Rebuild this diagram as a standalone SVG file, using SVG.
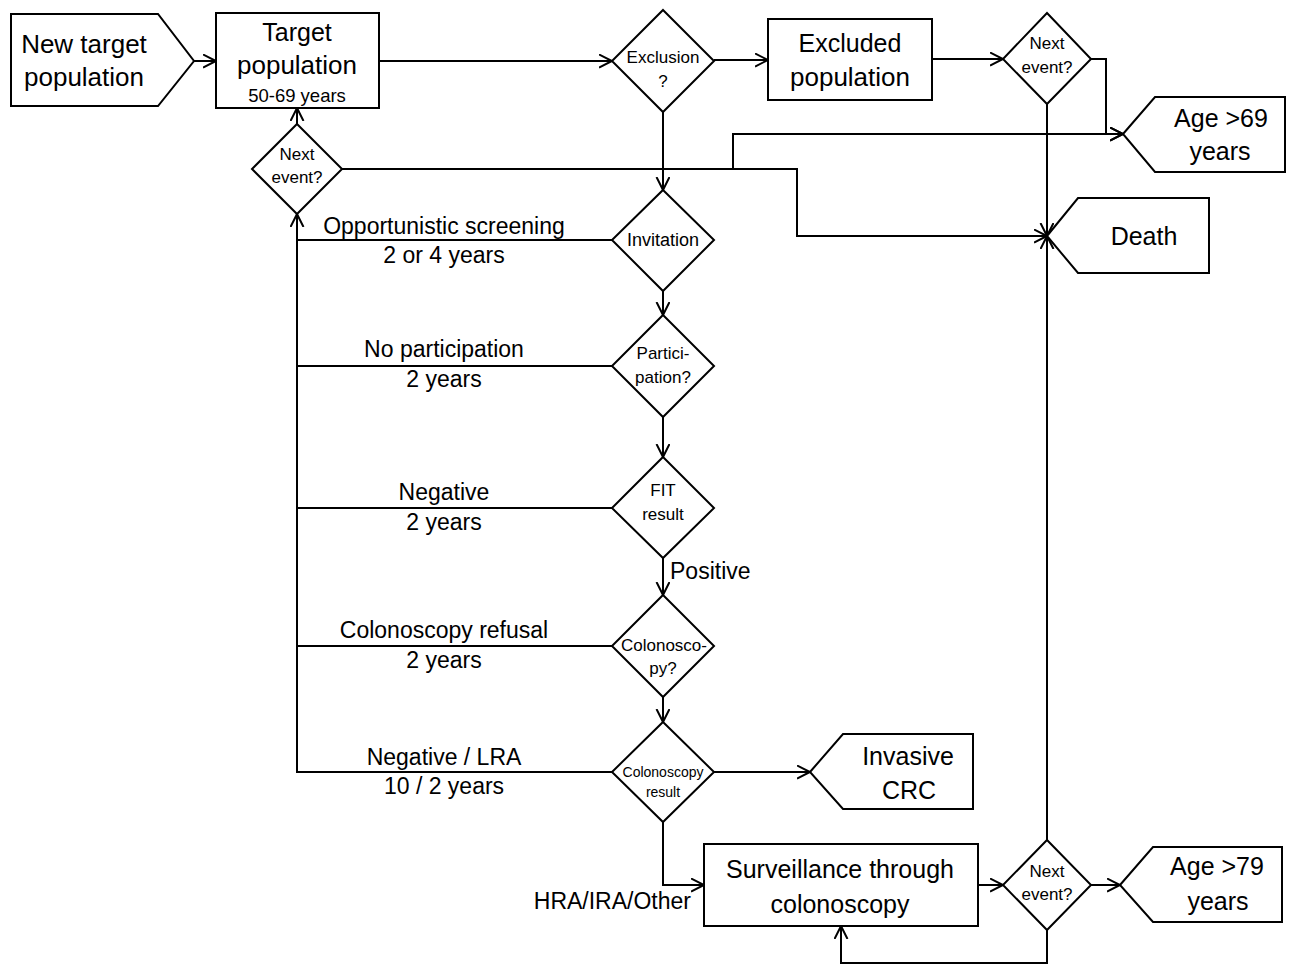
<svg xmlns="http://www.w3.org/2000/svg" width="1290" height="964" viewBox="0 0 1290 964">
<style>
.s{fill:#fff;stroke:#000;stroke-width:2}
.c{fill:none;stroke:#000;stroke-width:2}
text{font-family:"Liberation Sans",Arial,sans-serif;fill:#000;text-anchor:middle}
.big{font-size:25px}
.lab{font-size:23px}
.dm{font-size:17px}
.sm{font-size:14px}
</style>
<defs>
<marker id="a" markerUnits="userSpaceOnUse" markerWidth="16" markerHeight="16" refX="13" refY="7" orient="auto">
<path d="M0,0.5 L13,7 L0,13.5" fill="none" stroke="#000" stroke-width="2"/>
</marker>
</defs>
<g id="connectors" class="c">
<path d="M194,61 H216" marker-end="url(#a)"/>
<path d="M379,61 H612" marker-end="url(#a)"/>
<path d="M663,112 V190" marker-end="url(#a)"/>
<path d="M714,60 H768" marker-end="url(#a)"/>
<path d="M932,59 H1003" marker-end="url(#a)"/>
<path d="M1091,59 H1106 V134 H1123" marker-end="url(#a)"/>
<path d="M1047,104 V236" marker-end="url(#a)"/>
<path d="M297,124 V108" marker-end="url(#a)"/>
<path d="M342,169 H797 V236 H1047" marker-end="url(#a)"/>
<path d="M733,169 V134 H1123" marker-end="url(#a)"/>
<path d="M663,291 V315" marker-end="url(#a)"/>
<path d="M663,417 V457" marker-end="url(#a)"/>
<path d="M663,558 V595" marker-end="url(#a)"/>
<path d="M663,697 V722" marker-end="url(#a)"/>
<path d="M714,772 H810" marker-end="url(#a)"/>
<path d="M663,822 V885 H704" marker-end="url(#a)"/>
<path d="M612,240 H297"/>
<path d="M612,366 H297"/>
<path d="M612,508 H297"/>
<path d="M612,646 H297"/>
<path d="M612,772 H297 V214" marker-end="url(#a)"/>
<path d="M978,885 H1003" marker-end="url(#a)"/>
<path d="M1091,885 H1120" marker-end="url(#a)"/>
<path d="M1047,930 V963 H841 V926" marker-end="url(#a)"/>
<path d="M1047,840 V236" marker-end="url(#a)"/>
</g>
<g id="labels">
<text class="lab" x="444" y="234">Opportunistic screening</text>
<text class="lab" x="444" y="263">2 or 4 years</text>
<text class="lab" x="444" y="357">No participation</text>
<text class="lab" x="444" y="387">2 years</text>
<text class="lab" x="444" y="500">Negative</text>
<text class="lab" x="444" y="530">2 years</text>
<text class="lab" x="444" y="638">Colonoscopy refusal</text>
<text class="lab" x="444" y="668">2 years</text>
<text class="lab" x="444" y="765">Negative / LRA</text>
<text class="lab" x="444" y="794">10 / 2 years</text>
<text class="lab" x="670" y="579" style="text-anchor:start">Positive</text>
<text class="lab" x="691" y="909" style="text-anchor:end">HRA/IRA/Other</text>
</g>
<g id="new-target">
<polygon class="s" points="11,14 158,14 194,61 158,106 11,106"/>
<text class="big" x="84" y="53" style="font-size:26px">New target</text>
<text class="big" x="84" y="86" style="font-size:26px">population</text>
</g>
<g id="target">
<rect class="s" x="216" y="13" width="163" height="95"/>
<text class="big" x="297" y="41">Target</text>
<text class="big" x="297" y="74" style="font-size:26px">population</text>
<text x="297" y="102" style="font-size:18.5px">50-69 years</text>
</g>
<g id="next-left">
<polygon class="s" points="297,124 342,169 297,214 252,169"/>
<text class="dm" x="297" y="160">Next</text>
<text class="dm" x="297" y="183">event?</text>
</g>
<g id="exclusion">
<polygon class="s" points="663,10 714,61 663,112 612,61"/>
<text class="dm" x="663" y="63">Exclusion</text>
<text class="dm" x="663" y="87">?</text>
</g>
<g id="excluded">
<rect class="s" x="768" y="19" width="164" height="81"/>
<text class="big" x="850" y="52">Excluded</text>
<text class="big" x="850" y="86" style="font-size:26px">population</text>
</g>
<g id="next-top-right">
<polygon class="s" points="1047,13 1091,59 1047,104 1003,59"/>
<text class="dm" x="1047" y="49">Next</text>
<text class="dm" x="1047" y="73">event?</text>
</g>
<g id="age69">
<polygon class="s" points="1123,134 1155,97 1285,97 1285,172 1155,172"/>
<text class="big" x="1221" y="127">Age &gt;69</text>
<text class="big" x="1220" y="160">years</text>
</g>
<g id="death">
<polygon class="s" points="1047,236 1078,198 1209,198 1209,273 1078,273"/>
<text class="big" x="1144" y="245">Death</text>
</g>
<g id="invitation">
<polygon class="s" points="663,190 714,240 663,291 612,240"/>
<text class="dm" x="663" y="246" style="font-size:18px">Invitation</text>
</g>
<g id="participation">
<polygon class="s" points="663,315 714,366 663,417 612,366"/>
<text class="dm" x="663" y="359">Partici-</text>
<text class="dm" x="663" y="383">pation?</text>
</g>
<g id="fit">
<polygon class="s" points="663,457 714,508 663,558 612,508"/>
<text class="dm" x="663" y="496">FIT</text>
<text class="dm" x="663" y="520">result</text>
</g>
<g id="colonoscopy-q">
<polygon class="s" points="663,595 714,646 663,697 612,646"/>
<text class="dm" x="664" y="651">Colonosco-</text>
<text class="dm" x="663" y="674">py?</text>
</g>
<g id="colonoscopy-result">
<polygon class="s" points="663,722 714,772 663,822 612,772"/>
<text class="sm" x="663" y="777">Colonoscopy</text>
<text class="sm" x="663" y="797">result</text>
</g>
<g id="invasive-crc">
<polygon class="s" points="810,772 843,734 973,734 973,809 843,809"/>
<text class="big" x="908" y="765">Invasive</text>
<text class="big" x="909" y="799">CRC</text>
</g>
<g id="surveillance">
<rect class="s" x="704" y="844" width="274" height="82"/>
<text class="big" x="840" y="878">Surveillance through</text>
<text class="big" x="840" y="913">colonoscopy</text>
</g>
<g id="next-bottom">
<polygon class="s" points="1047,840 1091,885 1047,930 1003,885"/>
<text class="dm" x="1047" y="877">Next</text>
<text class="dm" x="1047" y="900">event?</text>
</g>
<g id="age79">
<polygon class="s" points="1120,885 1153,847 1282,847 1282,922 1153,922"/>
<text class="big" x="1217" y="875">Age &gt;79</text>
<text class="big" x="1218" y="910">years</text>
</g>
</svg>
